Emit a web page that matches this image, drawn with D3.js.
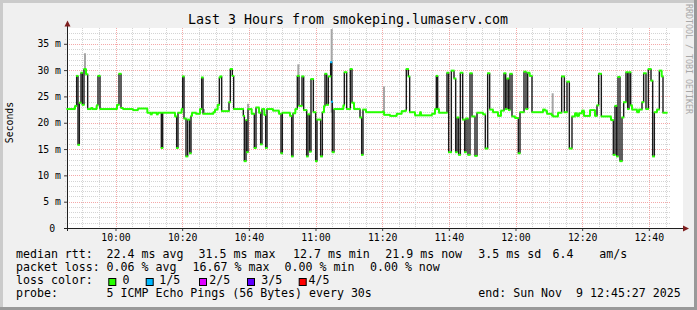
<!DOCTYPE html>
<html>
<head>
<meta charset="utf-8">
<script src="https://cdn.jsdelivr.net/npm/d3@7"></script>
<style>
  html, body { margin: 0; padding: 0; background: #f0f0f0; }
  svg { display: block; }
  text { font-family: 'DejaVu Sans Mono', monospace; white-space: pre; }
</style>
</head>
<body>
<div id="chart"></div>
<script>
// ------------- Data ----------------- //
// minutes after the graph start (09:45:27) where the median changes
const stepMin = [
  0, 2.4, 2.9, 3.3, 3.7, 4.2, 4.6, 5.1, 5.7, 6.2,
  7.2, 7.6, 8.9, 9.3, 9.9, 15.0, 15.6, 16.2, 16.8, 19.8,
  21.3, 24.1, 25.1, 25.5, 26.9, 27.3, 28.3, 28.7, 32.4, 32.9,
  33.3, 34.4, 34.7, 35.1, 35.7, 36.2, 36.8, 37.2, 37.5, 38.7,
  39.9, 40.4, 40.8, 43.9, 44.4, 45.2, 45.7, 46.0, 46.4, 48.6,
  49.0, 49.6, 50.0, 52.9, 53.2, 53.7, 53.9, 54.3, 55.4, 56.2,
  56.7, 57.6, 58.1, 58.5, 59.2, 59.6, 60.0, 61.8, 63.6, 64.2,
  64.6, 66.9, 67.4, 67.8, 68.5, 69.1, 69.6, 70.5, 71.0, 71.9,
  72.3, 72.8, 73.2, 73.9, 74.6, 75.0, 76.1, 76.6, 77.1, 77.4,
  77.9, 78.4, 79.1, 79.4, 79.6, 80.1, 82.9, 83.2, 83.9, 85.0,
  85.5, 86.1, 87.9, 88.4, 88.8, 89.7, 94.8, 95.1, 96.9, 98.9,
  100.4, 101.4, 101.8, 102.4, 102.8, 104.4, 105.9, 106.2, 109.5, 110.4,
  110.8, 111.2, 111.6, 114.0, 114.5, 115.3, 116.1, 116.6, 117.0, 117.5,
  118.0, 118.7, 119.3, 119.7, 120.3, 120.9, 121.5, 122.4, 123.0, 124.8,
  125.5, 126.2, 126.8, 127.8, 129.3, 130.2, 131.1, 131.6, 132.0, 132.5,
  132.9, 133.5, 134.4, 135.4, 135.9, 137.1, 137.7, 138.2, 138.8, 139.5,
  142.8, 143.4, 144.0, 145.4, 145.8, 147.3, 148.4, 149.2, 150.0, 150.7,
  151.5, 152.4, 153.0, 153.6, 154.5, 155.1, 156.9, 158.4, 159.0, 159.5,
  160.3, 163.2, 163.9, 164.4, 164.9, 165.3, 165.9, 166.5, 167.0, 167.7,
  168.2, 168.6, 169.1, 169.5, 171.0, 171.6, 172.5, 173.0, 173.7, 174.4,
  175.2, 175.7, 176.2, 177.0, 177.7, 178.4, 178.8
];

// median rtt in ms for each step above
const medianMs = [
  22.6, 23.2, 28.9, 15.8, 23.8, 29.5, 23.4, 30.2, 29.2, 22.6,
  22.8, 22.6, 23.3, 28.9, 22.6, 23.4, 29.3, 22.8, 22.6, 22.4,
  22.7, 21.9, 21.6, 21.9, 21.6, 21.9, 15.2, 21.9, 21.2, 15.2,
  21.9, 22.6, 28.8, 20.8, 13.6, 20.6, 14.2, 21.3, 21.9, 21.7,
  22.6, 28.6, 21.7, 22.0, 22.5, 23.4, 28.6, 28.8, 22.2, 23.9,
  30.2, 28.9, 22.6, 21.3, 12.7, 20.5, 14.4, 22.6, 21.7, 15.2,
  22.9, 21.9, 15.9, 22.6, 21.5, 15.2, 22.6, 22.3, 21.7, 14.2,
  21.9, 21.3, 13.6, 21.8, 22.6, 28.9, 23.2, 28.8, 22.4, 13.6,
  21.6, 14.5, 28.3, 22.0, 12.7, 20.6, 13.6, 22.0, 23.2, 29.3,
  23.4, 28.8, 31.5, 24.0, 14.4, 22.6, 23.3, 29.6, 22.6, 30.2,
  23.8, 22.6, 21.0, 13.9, 22.5, 22.0, 22.1, 21.5, 21.3, 21.7,
  22.2, 22.3, 30.2, 28.8, 22.0, 21.4, 22.0, 21.4, 21.7, 22.6,
  28.9, 22.6, 21.9, 29.5, 14.4, 29.9, 28.4, 14.4, 21.0, 13.9,
  29.5, 20.6, 14.4, 20.8, 13.9, 29.4, 21.2, 13.7, 21.9, 21.6,
  15.1, 29.4, 22.5, 22.0, 21.3, 22.3, 29.4, 22.6, 28.4, 22.4,
  29.3, 21.2, 20.9, 14.2, 22.0, 29.7, 22.6, 29.5, 28.9, 22.0,
  22.5, 22.3, 21.7, 21.4, 21.2, 21.9, 28.8, 22.0, 27.8, 15.1,
  21.2, 21.8, 21.3, 21.8, 22.3, 21.3, 22.4, 21.3, 23.3, 29.3,
  21.2, 20.5, 13.9, 23.2, 13.6, 28.7, 12.7, 21.0, 23.9, 29.6,
  22.6, 29.6, 23.3, 22.5, 22.0, 22.5, 23.9, 29.4, 22.6, 30.2,
  28.0, 13.6, 22.0, 22.5, 29.9, 28.8, 21.9
];

// steps that lost pings (minute offset, lost pings out of 5)
const lossAtMin = [79.1, 79.4];
const lossCount = [1, 1];

// visible grey smoke (ping spread) around a few steps
const smokeAtMin = [5.1, 40.8, 54.0, 69.1, 79.1, 94.8, 145.4];
const smokeLowMs = [30.2, 21.7, 22.6, 28.9, 21.9, 22.1, 21.4];
const smokeHighMs = [33.2, 22.6, 23.6, 31.1, 37.8, 26.9, 25.6];

const yTicks = [0, 5, 10, 15, 20, 25, 30, 35];
const lossLabels = ['0', '1/5', '2/5', '3/5', '4/5'];
const lossColors = ['#26ff00', '#00b8ff', '#dd00ff', '#5e00ff', '#ff0000'];

const titleText = 'Last 3 Hours from smokeping.lumaserv.com';
const rttRow = ['median rtt:', '22.4 ms avg', '31.5 ms max', '12.7 ms min', '21.9 ms now', '3.5 ms sd', '6.4', 'am/s'];
const lossRow = ['packet loss:', '0.06 % avg', '16.67 % max', '0.00 % min', '0.00 % now'];
const probeRow = ['probe:', '5 ICMP Echo Pings (56 Bytes) every 30s', 'end: Sun Nov  9 12:45:27 2025'];

// ------------- Layout ----------------- //
const W = 697, H = 310;
const plotLeft = 67, plotTop = 28, plotW = 600, plotH = 200;
const plotBottom = plotTop + plotH;
const start = new Date(2025, 10, 9, 9, 45, 27);
const end = new Date(2025, 10, 9, 12, 45, 27);
const toDate = (m) => new Date(start.getTime() + m * 60000);

const x = d3.scaleTime().domain([start, end]).range([plotLeft, plotLeft + plotW]);
const y = d3.scaleLinear().domain([0, 38]).range([plotBottom, plotTop]);

const svg = d3.select('#chart').append('svg')
  .attr('width', W).attr('height', H);

// background and 3d frame
svg.append('rect').attr('width', W).attr('height', H).attr('fill', '#f0f0f0');
svg.append('path').attr('d', `M0,0H${W}V3H3V${H}H0Z`).attr('fill', '#cbcbcb');
svg.append('path').attr('d', `M${W},${H}H0V${H - 3}H${W - 3}V0H${W}Z`).attr('fill', '#999999');

// canvas
svg.append('rect')
  .attr('x', plotLeft).attr('y', plotTop)
  .attr('width', 683 - plotLeft).attr('height', plotH)
  .attr('fill', '#ffffff');

// ------------- Grid ----------------- //
const grid = svg.append('g').attr('shape-rendering', 'crispEdges');

d3.range(1, 38).forEach((v) => {
  const major = v % 5 === 0;
  grid.append('line')
    .attr('x1', plotLeft - 2).attr('x2', plotLeft + plotW + 3)
    .attr('y1', Math.round(y(v)) + 0.5).attr('y2', Math.round(y(v)) + 0.5)
    .attr('stroke', major ? '#f4a8a8' : '#d4d4d4')
    .attr('stroke-dasharray', '1,1');
});

d3.timeMinute.every(5).range(start, end).forEach((t) => {
  const major = t.getMinutes() % 20 === 0;
  const xx = Math.round(x(t)) + 0.5;
  grid.append('line')
    .attr('x1', xx).attr('x2', xx)
    .attr('y1', plotTop).attr('y2', plotBottom + 2)
    .attr('stroke', major ? '#f4a8a8' : '#d4d4d4')
    .attr('stroke-dasharray', '1,1');
});

// ------------- Axes ----------------- //
const yAxis = d3.axisLeft(y)
  .tickValues(yTicks)
  .tickSize(3)
  .tickPadding(3)
  .tickFormat((d) => (d === 0 ? '0\u00a0' : d + ' m'));

svg.append('g')
  .attr('transform', `translate(${plotLeft},0)`)
  .call(yAxis)
  .call((g) => g.select('.domain').remove())
  .call((g) => g.selectAll('.tick line').attr('stroke', '#404040'))
  .call((g) => g.selectAll('.tick text')
    .attr('fill', '#000').attr('font-size', '9.8px')
    .attr('font-family', "'DejaVu Sans Mono', monospace"));

const xAxis = d3.axisBottom(x)
  .ticks(d3.timeMinute.every(20))
  .tickSize(3)
  .tickPadding(3)
  .tickFormat(d3.timeFormat('%H:%M'));

svg.append('g')
  .attr('transform', `translate(0,${plotBottom})`)
  .call(xAxis)
  .call((g) => g.select('.domain').remove())
  .call((g) => g.selectAll('.tick line').attr('stroke', '#404040'))
  .call((g) => g.selectAll('.tick text')
    .attr('fill', '#000').attr('font-size', '9.8px')
    .attr('font-family', "'DejaVu Sans Mono', monospace"));

// axis lines with arrows
svg.append('line')
  .attr('x1', plotLeft + 0.5).attr('x2', plotLeft + 0.5)
  .attr('y1', plotBottom + 3).attr('y2', 24)
  .attr('stroke', '#202020');
svg.append('line')
  .attr('x1', plotLeft - 3).attr('x2', 685)
  .attr('y1', plotBottom + 0.5).attr('y2', plotBottom + 0.5)
  .attr('stroke', '#202020');
svg.append('path')
  .attr('d', `M${plotLeft + 0.5},20.5L${plotLeft - 2.5},26.5L${plotLeft + 3.5},26.5Z`)
  .attr('fill', '#7f1f1f');
svg.append('path')
  .attr('d', `M689,${plotBottom + 0.5}L683,${plotBottom - 2.5}L683,${plotBottom + 3.5}Z`)
  .attr('fill', '#7f1f1f');

// ------------- Series ----------------- //
const lossByMin = new Map(lossAtMin.map((m, i) => [m, lossCount[i]]));
const steps = stepMin.map((m, i) => ({
  t0: toDate(m),
  t1: toDate(i + 1 < stepMin.length ? stepMin[i + 1] : 180),
  v: medianMs[i],
  color: lossColors[lossByMin.get(m) || 0]
}));

const plot = svg.append('g');

// smoke
smokeAtMin.forEach((m, i) => {
  plot.append('rect')
    .attr('x', x(toDate(m)))
    .attr('y', y(smokeHighMs[i]))
    .attr('width', 2)
    .attr('height', y(smokeLowMs[i]) - y(smokeHighMs[i]))
    .attr('fill', '#a6a6a6');
});

// jumps between steps
steps.slice(0, -1).forEach((s, i) => {
  const next = steps[i + 1];
  const big = Math.abs(next.v - s.v) > 1.2;
  plot.append('line')
    .attr('x1', x(s.t1)).attr('x2', x(s.t1))
    .attr('y1', y(s.v)).attr('y2', y(next.v))
    .attr('stroke', big ? '#1a1a1a' : s.color)
    .attr('stroke-width', big ? 1.4 : 2);
});

// median line
steps.forEach((s) => {
  plot.append('line')
    .attr('x1', x(s.t0) - 0.6).attr('x2', x(s.t1) + 0.6)
    .attr('y1', y(s.v)).attr('y2', y(s.v))
    .attr('stroke', s.color)
    .attr('stroke-width', 2);
});

// ------------- Texts ----------------- //
svg.append('text')
  .attr('x', 348).attr('y', 24)
  .attr('text-anchor', 'middle')
  .attr('font-size', '13.3px')
  .attr('fill', '#000')
  .text(titleText);

svg.append('text')
  .attr('transform', 'translate(12.5,122.5) rotate(-90)')
  .attr('text-anchor', 'middle')
  .attr('font-size', '9.8px')
  .attr('fill', '#000')
  .text('Seconds');

svg.append('text')
  .attr('transform', 'translate(685.5,4) rotate(90)')
  .attr('font-size', '8.3px')
  .attr('fill', '#a8a8a8')
  .text('RRDTOOL / TOBI OETIKER');

const legend = svg.append('g').attr('font-size', '11.6px').attr('fill', '#000');
const rowY = [258, 271.1, 284.2, 297.3];

const rttX = [16, 106.6, 198.6, 293, 385.3, 478.3, 552.6, 599.3];
rttRow.forEach((t, i) => {
  legend.append('text').attr('x', rttX[i]).attr('y', rowY[0]).text(t);
});

const lossX = [16, 106.6, 192.6, 284.6, 370];
lossRow.forEach((t, i) => {
  legend.append('text').attr('x', lossX[i]).attr('y', rowY[1]).text(t);
});

legend.append('text').attr('x', 16).attr('y', rowY[2]).text('loss color:');
const boxX = [108.3, 145.7, 199, 247, 298.7];
const boxLabelX = [122.6, 159.3, 209.3, 261.3, 308.6];
lossLabels.forEach((t, i) => {
  legend.append('rect')
    .attr('x', boxX[i] + 0.5).attr('y', 278.5)
    .attr('width', 7).attr('height', 7)
    .attr('fill', lossColors[i])
    .attr('stroke', '#000')
    .attr('stroke-width', 1);
  legend.append('text').attr('x', boxLabelX[i]).attr('y', rowY[2]).text(t);
});

const probeX = [16, 106.6, 478.3];
probeRow.forEach((t, i) => {
  legend.append('text').attr('x', probeX[i]).attr('y', rowY[3]).text(t);
});
</script>
</body>
</html>
